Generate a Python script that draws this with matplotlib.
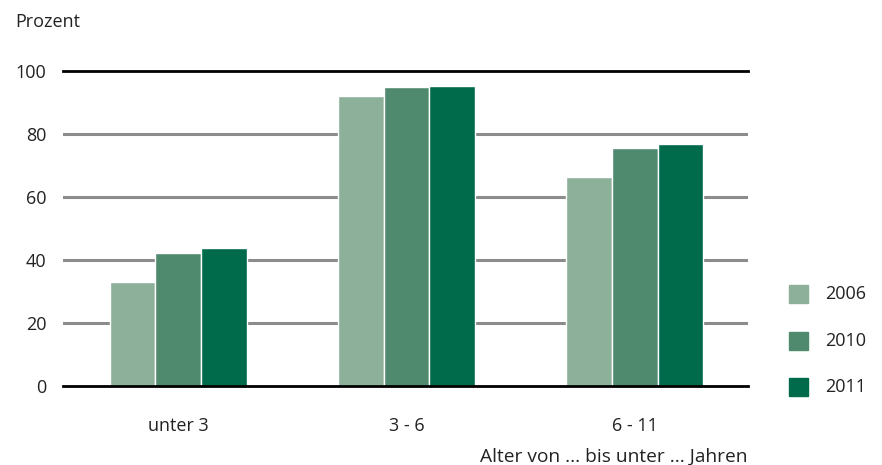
import matplotlib
matplotlib.use("Agg")
import matplotlib.pyplot as plt
import numpy as np

categories = ["unter 3", "3 - 6", "6 - 11"]
years = ["2006", "2010", "2011"]
v2006 = [33.0, 92.2, 66.5]
v2010 = [42.3, 94.8, 75.7]
v2011 = [43.8, 95.3, 76.8]
series = [v2006, v2010, v2011]
colors = ["#8cb09a", "#4f8a6f", "#006b4b"]
yticks = [0, 20, 40, 60, 80, 100]
txt = "#222222"

plt.rcParams['font.family'] = ['Open Sans', 'DejaVu Sans']

fig = plt.figure(figsize=(8.82, 4.65), dpi=100)
ax = fig.add_axes([63/882, 1-386/465, (748-63)/882, (386-71)/465])

x = np.arange(len(categories))
w = 0.2
for i, (vals, c) in enumerate(zip(series, colors)):
    ax.bar(x + (i-1)*w, vals, width=w, color=c, edgecolor="white", linewidth=1, zorder=3)

for yv in yticks:
    if yv in (0, 100):
        ax.axhline(yv, color="black", lw=2.0, zorder=4, clip_on=False)
    else:
        ax.axhline(yv, color="#8c8c8c", lw=2.2, zorder=1)

ax.set_xlim(-0.505, 2.495)
ax.set_ylim(0, 100)
ax.set_yticks(yticks)
ax.set_yticklabels([str(t) for t in yticks], fontsize=13, color=txt)
ax.set_xticks(x)
ax.set_xticklabels(categories, fontsize=13, color=txt)
ax.tick_params(axis="both", length=0, pad=12)
ax.tick_params(axis="x", pad=22)
for s in ax.spines.values():
    s.set_visible(False)

fig.text(15/882, 1-22/465, "Prozent", fontsize=13, va="center", ha="left", color=txt)
fig.text(748/882, 1-457/465, "Alter von ... bis unter ... Jahren", fontsize=13.8,
         va="center", ha="right", color=txt)

leg_y = [294, 341, 387]
for yy, lab, c in zip(leg_y, years, colors):
    fig.patches.append(plt.Rectangle((789/882, 1-(yy+9)/465), 19/882, 18/465,
                                     transform=fig.transFigure, color=c, figure=fig))
    fig.text(825/882, 1-yy/465, lab, fontsize=13, va="center", ha="left", color=txt)

fig.savefig("out.png", dpi=100)
